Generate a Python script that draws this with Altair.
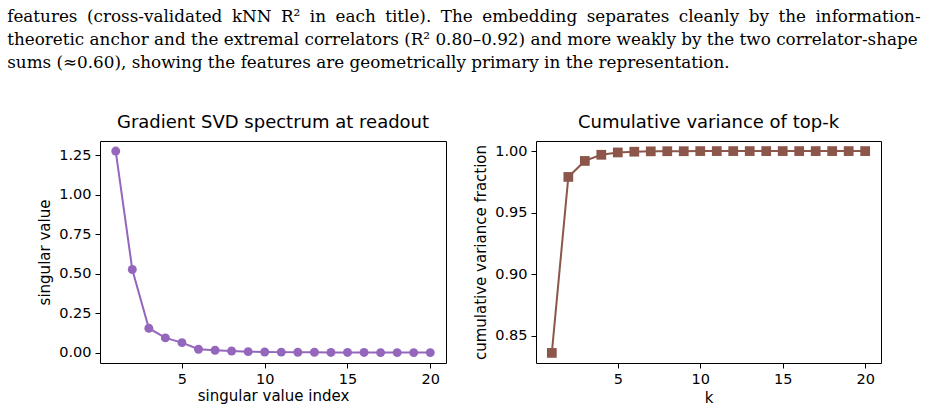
import altair as alt
import pandas as pd

# Caption text above the two panels
caption_lines = [
    "features (cross-validated kNN R\u00b2 in each title).  The embedding separates cleanly by the information-",
    "theoretic anchor and the extremal correlators (R\u00b2 0.80\u20130.92) and more weakly by the two correlator-shape",
    "sums (\u22480.60), showing the features are geometrically primary in the representation.",
]

# Left panel: singular values of the readout gradient
sv_index = list(range(1, 21))
sv_values = [1.275, 0.527, 0.156, 0.095, 0.065, 0.023, 0.017, 0.012, 0.008, 0.006,
             0.005, 0.004, 0.004, 0.003, 0.003, 0.003, 0.002, 0.002, 0.002, 0.002]
sv_ticks = [0.0, 0.25, 0.5, 0.75, 1.0, 1.25]

# Right panel: cumulative variance explained by the top-k directions
k_values = list(range(1, 21))
cum_var = [0.836, 0.979, 0.992, 0.997, 0.9989, 0.9995, 0.9998, 0.9999, 0.9999, 1.0,
           1.0, 1.0, 1.0, 1.0, 1.0, 1.0, 1.0, 1.0, 1.0, 1.0]
cv_ticks = [0.85, 0.90, 0.95, 1.00]

x_ticks = [5, 10, 15, 20]

PURPLE = "#9467bd"
BROWN = "#8c564b"
SANS = "DejaVu Sans"


def stretch(line):
    # widen the inter-word gaps of a justified (non-final) paragraph line
    return " \u2005".join(line.split())


caption_text = [stretch(caption_lines[0]), caption_lines[1], caption_lines[2]]


def panel_title(text):
    # the offset is measured from the top of the axis labels, which poke above the frame
    return alt.TitleParams(text=text, font=SANS, fontSize=18, fontWeight="normal",
                           color="black", baseline="alphabetic", offset=-5,
                           anchor="middle", frame="group")


left_df = pd.DataFrame({"index": sv_index, "value": sv_values})
lx = alt.X("index:Q", scale=alt.Scale(domain=[0.05, 20.95], nice=False, zero=False),
           axis=alt.Axis(values=x_ticks, title="singular value index", titlePadding=3))
ly = alt.Y("value:Q", scale=alt.Scale(domain=[-0.0637, 1.3387], nice=False, zero=False),
           axis=alt.Axis(values=sv_ticks, format=".2f", title="singular value"))
left = alt.layer(
    alt.Chart(left_df).mark_line(color=PURPLE, strokeWidth=2).encode(x=lx, y=ly),
    alt.Chart(left_df).mark_point(shape="circle", filled=True, size=80, color=PURPLE,
                                  opacity=1).encode(x=lx, y=ly),
).properties(width=346, height=222, title=panel_title("Gradient SVD spectrum at readout"))

right_df = pd.DataFrame({"k": k_values, "frac": cum_var})
rx = alt.X("k:Q", scale=alt.Scale(domain=[0.04, 20.96], nice=False, zero=False),
           axis=alt.Axis(values=x_ticks, title="k", titlePadding=5))
ry = alt.Y("frac:Q", scale=alt.Scale(domain=[0.8278, 1.0082], nice=False, zero=False),
           axis=alt.Axis(values=cv_ticks, format=".2f", title="cumulative variance fraction"))
right = alt.layer(
    alt.Chart(right_df).mark_line(color=BROWN, strokeWidth=2).encode(x=rx, y=ry),
    alt.Chart(right_df).mark_point(shape="square", filled=True, size=95, color=BROWN,
                                   opacity=1).encode(x=rx, y=ry),
).properties(width=345, height=222, title=panel_title("Cumulative variance of top-k"))

chart = alt.hconcat(left, right, spacing=26).properties(
    title=alt.TitleParams(
        text=caption_text, anchor="start", frame="bounds", dx=-30,
        font="DejaVu Serif", fontSize=16.8, fontWeight="normal", color="black",
        lineHeight=23, offset=42,
    ),
    padding={"left": 7, "top": 8, "right": 0, "bottom": 0},
    background="white",
).configure_view(
    stroke="black", strokeWidth=1
).configure_axis(
    grid=False, domain=False,
    labelFont=SANS, labelFontSize=14.5, labelColor="black", labelPadding=4,
    tickColor="black", tickSize=5, tickWidth=1,
    titleFont=SANS, titleFontSize=15, titleFontWeight="normal", titleColor="black",
    titlePadding=6,
)

chart.save("out.html", embed_options={"renderer": "svg", "actions": False})
